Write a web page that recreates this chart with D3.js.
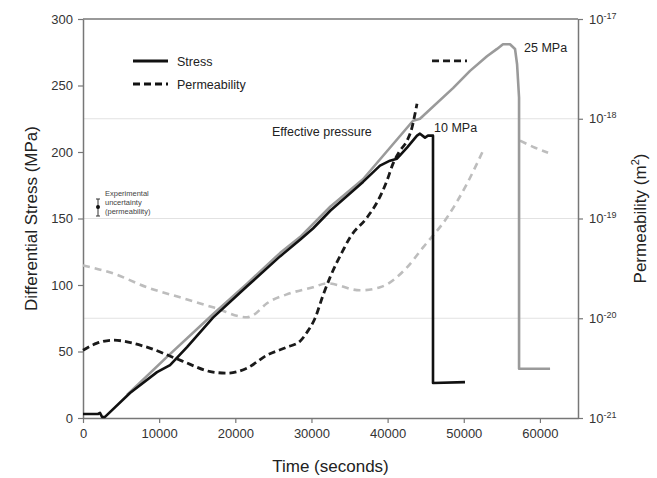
<!DOCTYPE html>
<html>
<head>
<meta charset="utf-8">
<script src="https://cdn.jsdelivr.net/npm/d3@7"></script>
<style>
  body { margin: 0; background: #fff; }
  text { font-family: "Liberation Sans", Arial, sans-serif; }
</style>
</head>
<body>
<div id="chart"></div>
<script>
// time (s) and differential stress (MPa), 10 MPa effective pressure
const stress10Time = [0, 1970, 2230, 2500, 2890, 6170, 9720, 11430, 13660, 17070, 21540, 25870, 28500, 30200, 32500, 36770, 39000, 40310, 41230, 42550, 43860, 44250, 44910, 45300, 45960, 45960, 50160];
const stress10 = [3, 3, 3.8, 0.8, 0.8, 18.8, 34.5, 39.8, 53.3, 75.5, 99, 121.5, 134, 142.5, 156, 177.5, 189.8, 193.5, 195, 203.3, 212.3, 213.8, 210.8, 212.3, 212.3, 26.3, 27];

// 25 MPa effective pressure
const stress25Time = [5780, 11030, 17070, 21540, 25870, 28500, 32500, 36770, 43340, 44250, 48590, 50820, 53050, 54370, 55150, 56070, 56730, 57000, 57260, 57260, 61330];
const stress25 = [17.3, 46, 78, 101, 124, 136, 159, 179.5, 223.5, 225, 248, 261, 272, 277.5, 281, 281, 277.5, 266, 241, 37, 37];

// permeability, stored as log10(k / m^2)
const perm10Time = [0, 1840, 3940, 8400, 12740, 17070, 18910, 21540, 24160, 26790, 28500, 29420, 30470, 31520, 32440, 34140, 35060, 37300, 38740, 39920, 40710, 41630, 42550, 43200, 43600, 43860];
const perm10Log = [-20.32, -20.25, -20.22, -20.29, -20.42, -20.54, -20.55, -20.5, -20.37, -20.29, -20.23, -20.14, -20.0, -19.77, -19.59, -19.32, -19.19, -18.99, -18.82, -18.62, -18.45, -18.32, -18.22, -18.09, -17.95, -17.85];
const perm10bTime = [45830, 50420];
const perm10bLog = [-17.42, -17.42];

const perm25Time = [0, 3940, 8400, 12740, 17070, 21540, 22320, 24160, 27180, 30200, 32040, 36380, 39000, 42550, 44650, 47800, 50430, 52530];
const perm25Log = [-19.47, -19.55, -19.69, -19.79, -19.89, -19.99, -19.97, -19.85, -19.75, -19.69, -19.65, -19.72, -19.69, -19.49, -19.29, -18.99, -18.65, -18.32];
const perm25bTime = [57390, 59360, 61070];
const perm25bLog = [-18.22, -18.29, -18.34];

const xTicks = [0, 10000, 20000, 30000, 40000, 50000, 60000];
const yTicks = [0, 50, 100, 150, 200, 250, 300];
const permExps = [-21, -20, -19, -18, -17];

const width = 657, height = 478;
const margin = {top: 19, right: 79, bottom: 60, left: 83};

const svg = d3.select("#chart").append("svg")
    .attr("width", width)
    .attr("height", height);

const x = d3.scaleLinear([0, 65000], [margin.left, width - margin.right]);
const y = d3.scaleLinear([0, 300], [height - margin.bottom, margin.top]);
const yK = d3.scaleLog([1e-21, 1e-17], [height - margin.bottom, margin.top]);

// light gridlines at permeability decades
svg.append("g")
  .selectAll("line")
  .data(permExps.slice(1, 4))
  .join("line")
    .attr("x1", x(0)).attr("x2", x(65000))
    .attr("y1", d => yK(Math.pow(10, d))).attr("y2", d => yK(Math.pow(10, d)))
    .attr("stroke", "#e2e2e2").attr("stroke-width", 1);

// top frame line
svg.append("line")
    .attr("x1", x(0)).attr("x2", x(65000))
    .attr("y1", y(300)).attr("y2", y(300))
    .attr("stroke", "#777").attr("stroke-width", 1.5);

const axisColor = "#777";
const styleAxis = g => {
    g.select(".domain").attr("stroke", axisColor).attr("stroke-width", 1.5);
    g.selectAll(".tick line").attr("stroke", axisColor).attr("stroke-width", 1.2);
    g.selectAll(".tick text").attr("fill", "#333").style("font-size", "13px")
      .style("font-family", "'Liberation Sans', Arial, sans-serif");
};

svg.append("g")
    .attr("transform", `translate(0,${y(0)})`)
    .call(d3.axisBottom(x).tickValues(xTicks).tickFormat(d3.format("d")).tickSize(5).tickSizeOuter(0).tickPadding(6))
    .call(styleAxis);

svg.append("g")
    .attr("transform", `translate(${x(0)},0)`)
    .call(d3.axisLeft(y).tickValues(yTicks).tickSize(5).tickSizeOuter(0).tickPadding(5))
    .call(styleAxis);

const rightAxis = svg.append("g")
    .attr("transform", `translate(${x(65000)},0)`)
    .call(d3.axisRight(yK).tickValues(permExps.map(e => Math.pow(10, e))).tickSize(5).tickSizeOuter(0).tickPadding(6).tickFormat(""))
    .call(styleAxis);
rightAxis.selectAll(".tick").each(function(d, i) {
    const t = d3.select(this).select("text").text(null);
    t.append("tspan").text("10");
    t.append("tspan").attr("dy", -5).style("font-size", "9px").text(permExps[i]);
});

// lines
const line = d3.line().x(d => x(d[0])).y(d => y(d[1]));
const lineK = d3.line().x(d => x(d[0])).y(d => yK(Math.pow(10, d[1]))).curve(d3.curveMonotoneX);

const series = [
    {t: perm25Time, v: perm25Log, k: true, color: "#bdbdbd", dash: "7,5", w: 2.6},
    {t: perm25bTime, v: perm25bLog, k: true, color: "#bdbdbd", dash: "7,5", w: 2.6},
    {t: stress25Time, v: stress25, k: false, color: "#9a9a9a", dash: null, w: 2.6},
    {t: perm10Time, v: perm10Log, k: true, color: "#1a1a1a", dash: "7,4", w: 2.8},
    {t: perm10bTime, v: perm10bLog, k: true, color: "#1a1a1a", dash: "7,4", w: 2.8},
    {t: stress10Time, v: stress10, k: false, color: "#111", dash: null, w: 2.6}
];

svg.append("g")
    .attr("fill", "none")
  .selectAll("path")
  .data(series)
  .join("path")
    .attr("stroke", d => d.color)
    .attr("stroke-width", d => d.w)
    .attr("stroke-dasharray", d => d.dash)
    .attr("stroke-linejoin", "round")
    .attr("d", d => {
        const pts = d.t.map((t, i) => [t, d.v[i]]);
        return d.k ? lineK(pts) : line(pts);
    });

// legend
const legend = svg.append("g");
[["Stress", null, 61], ["Permeability", "7,4", 84]].forEach(([label, dash, ly]) => {
    legend.append("line")
        .attr("x1", 133).attr("x2", 168).attr("y1", ly).attr("y2", ly)
        .attr("stroke", "#111").attr("stroke-width", 2.8)
        .attr("stroke-dasharray", dash);
    legend.append("text")
        .attr("x", 177).attr("y", ly + 5)
        .style("font-size", "12.5px").attr("fill", "#222")
        .text(label);
});

// annotations
svg.append("text").attr("x", 272).attr("y", 136)
    .style("font-size", "12.5px").attr("fill", "#222").text("Effective pressure");
svg.append("text").attr("x", 434).attr("y", 132)
    .style("font-size", "12.5px").attr("fill", "#222").text("10 MPa");
svg.append("text").attr("x", 524).attr("y", 52)
    .style("font-size", "12.5px").attr("fill", "#222").text("25 MPa");

// experimental uncertainty error bar
const eb = svg.append("g").attr("stroke", "#333").attr("stroke-width", 1);
eb.append("line").attr("x1", 98).attr("x2", 98).attr("y1", 199).attr("y2", 216);
eb.append("line").attr("x1", 96).attr("x2", 100).attr("y1", 199).attr("y2", 199);
eb.append("line").attr("x1", 96).attr("x2", 100).attr("y1", 216).attr("y2", 216);
svg.append("circle").attr("cx", 98).attr("cy", 207).attr("r", 2).attr("fill", "#111");
["Experimental", "uncertainty", "(permeability)"].forEach((s, i) => {
    svg.append("text").attr("x", 105).attr("y", 196 + i * 9)
        .style("font-size", "7.5px").attr("fill", "#444").text(s);
});

// axis titles
svg.append("text")
    .attr("transform", `translate(37,${(y(0) + y(300)) / 2}) rotate(-90)`)
    .attr("text-anchor", "middle")
    .style("font-size", "17px").attr("fill", "#222")
    .text("Differential Stress (MPa)");

svg.append("text")
    .attr("x", (x(0) + x(65000)) / 2).attr("y", 472)
    .attr("text-anchor", "middle")
    .style("font-size", "17px").attr("fill", "#222")
    .text("Time (seconds)");

const kTitle = svg.append("text")
    .attr("transform", `translate(646,${(y(0) + y(300)) / 2}) rotate(-90)`)
    .attr("text-anchor", "middle")
    .style("font-size", "17px").attr("fill", "#222");
kTitle.append("tspan").text("Permeability (m");
kTitle.append("tspan").attr("dy", -7).style("font-size", "11px").text("2");
kTitle.append("tspan").attr("dy", 7).text(")");
</script>
</body>
</html>
